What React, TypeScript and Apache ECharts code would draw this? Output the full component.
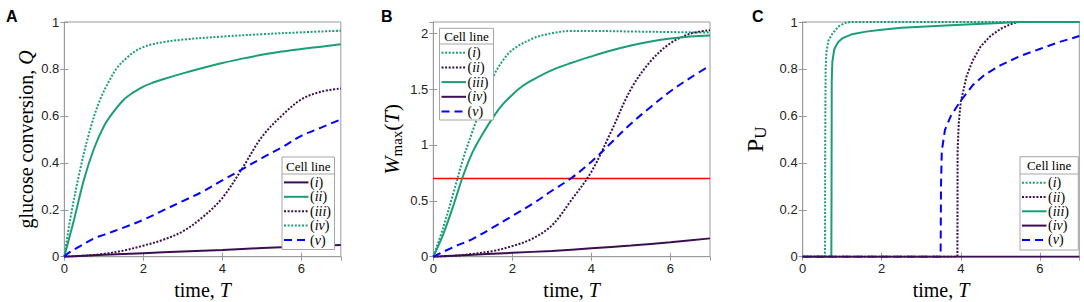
import React, { useEffect, useRef } from "react";
import * as echarts from "echarts";

// ---------- colours ----------
const GREEN = "#1b9e77";
const PURPLE = "#3b0f4f";
const BLUE = "#0000ff";
const RED = "#ff0000";
const AXIS_GRAY = "#9a9a9a";
const BOX_GRAY = "#a6a6a6";

// ---------- axes ----------
const T_MIN = 0;
const T_MAX = 7;
const T_INTERVAL = 2;
const yMaxA = 1;
const yMaxB = 2.1;
const yMaxC = 1;
const yIntervalA = 0.2;
const yIntervalB = 0.5;
const yIntervalC = 0.2;

// ---------- panel A: glucose conversion Q(T) ----------
const A_i: number[][] = [[0, 0], [1, 0.008], [2, 0.015], [3, 0.022], [4, 0.029], [5, 0.037], [6, 0.044], [7, 0.05]];
const A_ii: number[][] = [[0, 0], [0.25, 0.16], [0.5, 0.33], [0.75, 0.46], [1, 0.555], [1.25, 0.618], [1.5, 0.668], [1.75, 0.7], [2, 0.725], [2.25, 0.742], [2.5, 0.756], [3, 0.781], [3.5, 0.804], [4, 0.825], [4.5, 0.844], [5, 0.86], [5.5, 0.874], [6, 0.885], [6.5, 0.895], [7, 0.905]];
const A_iii: number[][] = [[0, 0], [0.5, 0.004], [1, 0.012], [1.5, 0.026], [2, 0.047], [2.5, 0.072], [3, 0.108], [3.5, 0.168], [4, 0.25], [4.5, 0.375], [5, 0.51], [5.5, 0.6], [6, 0.67], [6.5, 0.703], [7, 0.717]];
const A_iv: number[][] = [[0, 0], [0.15, 0.16], [0.4, 0.37], [0.65, 0.54], [0.9, 0.667], [1.15, 0.753], [1.35, 0.808], [1.6, 0.85], [1.8, 0.876], [2, 0.893], [2.2, 0.904], [2.5, 0.914], [3, 0.925], [4, 0.938], [5, 0.948], [6, 0.956], [7, 0.963]];
const A_v: number[][] = [[0, 0], [0.1, 0.015], [0.4, 0.045], [0.75, 0.078], [1, 0.093], [1.5, 0.124], [2, 0.157], [2.5, 0.197], [3, 0.237], [3.5, 0.277], [4, 0.325], [4.5, 0.372], [5, 0.42], [5.5, 0.465], [6, 0.515], [6.5, 0.55], [7, 0.585]];

// ---------- panel B: W_max(T) ----------
const B_i: number[][] = [[0, 0], [0.25, 0.26], [0.5, 0.56], [0.75, 0.87], [1, 1.13], [1.25, 1.38], [1.5, 1.6], [1.75, 1.75], [2, 1.85], [2.5, 1.95], [3, 2.0], [3.5, 2.02], [4, 2.02], [5, 2.015], [6, 2.01], [7, 2.005]];
const B_ii: number[][] = [[0, 0], [0.5, 0.008], [1, 0.025], [1.5, 0.05], [2, 0.095], [2.5, 0.16], [3, 0.28], [3.5, 0.51], [4, 0.76], [4.5, 1.12], [5, 1.5], [5.5, 1.75], [6, 1.91], [6.5, 1.995], [7, 2.027]];
const B_iii: number[][] = [[0, 0], [0.25, 0.2], [0.5, 0.45], [0.75, 0.72], [1, 0.94], [1.25, 1.1], [1.5, 1.24], [1.75, 1.36], [2, 1.45], [2.25, 1.525], [2.5, 1.58], [3, 1.67], [3.5, 1.735], [4, 1.792], [4.5, 1.845], [5, 1.89], [5.5, 1.925], [6, 1.952], [6.5, 1.97], [7, 1.98]];
const B_iv: number[][] = [[0, 0], [1, 0.017], [2, 0.035], [3, 0.052], [4, 0.075], [5, 0.1], [6, 0.13], [7, 0.164]];
const B_v: number[][] = [[0, 0], [0.5, 0.085], [1, 0.16], [1.5, 0.26], [2, 0.365], [2.5, 0.47], [3, 0.59], [3.5, 0.705], [4, 0.85], [4.5, 1.02], [5, 1.19], [5.5, 1.34], [6, 1.48], [6.5, 1.6], [7, 1.71]];
const thresholdB = 0.7;

// ---------- panel C: P_U ----------
const C_i: number[][] = [[0, 0], [0.56, 0], [0.565, 0.05], [0.57, 0.5], [0.58, 0.8], [0.6, 0.87], [0.65, 0.92], [0.75, 0.95], [0.9, 0.98], [1.05, 0.995], [1.2, 1], [7, 1]];
const C_ii: number[][] = [[0, 0], [3.915, 0], [3.92, 0.45], [3.95, 0.57], [4.0, 0.66], [4.15, 0.77], [4.3, 0.835], [4.5, 0.895], [4.75, 0.94], [5.0, 0.97], [5.25, 0.99], [5.45, 1], [7, 1]];
const C_iii: number[][] = [[0, 0], [0.725, 0], [0.73, 0.3], [0.735, 0.75], [0.75, 0.83], [0.8, 0.885], [0.9, 0.915], [1.0, 0.93], [1.25, 0.948], [1.6, 0.959], [2, 0.967], [2.5, 0.975], [3, 0.98], [4, 0.988], [5, 0.996], [5.5, 1], [7, 1]];
const C_iv: number[][] = [[0, 0], [7, 0]];
const C_v: number[][] = [[0, 0], [3.49, 0], [3.5, 0.3], [3.52, 0.45], [3.6, 0.54], [3.75, 0.6], [4.0, 0.665], [4.3, 0.73], [4.6, 0.775], [5, 0.815], [5.5, 0.855], [6, 0.885], [6.5, 0.915], [7, 0.94]];

// ---------- legend labels ----------
const cellLines = ["i", "ii", "iii", "iv", "v"];
const legendTitle = "Cell line";
const panelLetters = ["A", "B", "C"];

// ---------- line styles ----------
const SOLID: any = "solid";
const DOTTED = [2, 1.6];
const DASHED = [8, 5];

const SERIF = "Liberation Serif";
const SANS = "Liberation Sans";

type S = { label: string; data: number[][]; color: string; dash: any; z?: number };

const seriesA: S[] = [
  { label: cellLines[0], data: A_i, color: PURPLE, dash: SOLID },
  { label: cellLines[1], data: A_ii, color: GREEN, dash: SOLID },
  { label: cellLines[2], data: A_iii, color: PURPLE, dash: DOTTED },
  { label: cellLines[3], data: A_iv, color: GREEN, dash: DOTTED },
  { label: cellLines[4], data: A_v, color: BLUE, dash: DASHED },
];
const seriesB: S[] = [
  { label: cellLines[0], data: B_i, color: GREEN, dash: DOTTED },
  { label: cellLines[1], data: B_ii, color: PURPLE, dash: DOTTED },
  { label: cellLines[2], data: B_iii, color: GREEN, dash: SOLID },
  { label: cellLines[3], data: B_iv, color: PURPLE, dash: SOLID },
  { label: cellLines[4], data: B_v, color: BLUE, dash: DASHED },
];
const seriesC: S[] = [
  { label: cellLines[0], data: C_i, color: GREEN, dash: DOTTED },
  { label: cellLines[1], data: C_ii, color: PURPLE, dash: DOTTED },
  { label: cellLines[2], data: C_iii, color: GREEN, dash: SOLID },
  { label: cellLines[3], data: C_iv, color: PURPLE, dash: SOLID, z: 5 },
  { label: cellLines[4], data: C_v, color: BLUE, dash: DASHED },
];

const nameRich = {
  n: { fontFamily: SERIF, fontSize: 20, color: "#000" },
  it: { fontFamily: SERIF, fontSize: 20, fontStyle: "italic", color: "#000" },
};

const panels = [
  {
    grid: { left: 64.3, top: 22, width: 276.5, height: 234.7 },
    yMax: yMaxA,
    yInterval: yIntervalA,
    yName: "{n|glucose conversion, }{it|Q}",
    yNameGap: 28,
    yRich: nameRich,
    series: seriesA,
    smooth: 0.35,
    letterX: 6,
    legend: { x: 282, y: 157, w: 52.5, h: 92.5, head: 17, y0: 182.4, step: 14.4 },
  },
  {
    grid: { left: 433.3, top: 22, width: 276.7, height: 234.7 },
    yMax: yMaxB,
    yInterval: yIntervalB,
    yName: "{it|W}{sub|max}{n|(}{it|T}{n|)}",
    yNameGap: 29,
    yRich: {
      n: { fontFamily: SERIF, fontSize: 22, color: "#000", lineHeight: 26 },
      it: { fontFamily: SERIF, fontSize: 22, fontStyle: "italic", color: "#000", lineHeight: 26 },
      sub: { fontFamily: SERIF, fontSize: 15, color: "#000", lineHeight: 15, verticalAlign: "bottom" },
    },
    series: seriesB,
    smooth: 0.35,
    letterX: 381,
    legend: { x: 439.5, y: 28.3, w: 54, h: 91.7, head: 15.7, y0: 52.7, step: 14.7 },
  },
  {
    grid: { left: 802.7, top: 22, width: 276.6, height: 234.7 },
    yMax: yMaxC,
    yInterval: yIntervalC,
    yName: "{b|P}{sub|U}",
    yNameGap: 34,
    yRich: {
      b: { fontFamily: SERIF, fontSize: 24, color: "#000", lineHeight: 28 },
      sub: { fontFamily: SERIF, fontSize: 17, color: "#000", lineHeight: 17, verticalAlign: "bottom" },
    },
    series: seriesC,
    smooth: false as any,
    letterX: 752,
    legend: { x: 1020, y: 156.7, w: 58.3, h: 93.3, head: 17.3, y0: 182.7, step: 14.3 },
  },
];

function buildOption() {
  const grids: any[] = [];
  const xAxes: any[] = [];
  const yAxes: any[] = [];
  const series: any[] = [];
  const graphics: any[] = [];

  panels.forEach((p, i) => {
    grids.push({
      ...p.grid,
      show: true,
      borderColor: AXIS_GRAY,
      borderWidth: 1,
      backgroundColor: "transparent",
      containLabel: false,
      outerBoundsMode: "none",
    });

    const tick = { show: true, inside: true, length: 4, lineStyle: { color: AXIS_GRAY, width: 1 } };
    const label = { fontFamily: SANS, fontSize: 13, color: "#222" };

    xAxes.push({
      type: "value",
      gridIndex: i,
      position: "bottom",
      min: T_MIN,
      max: T_MAX,
      interval: T_INTERVAL,
      axisLine: { show: true, lineStyle: { color: AXIS_GRAY, width: 1 } },
      axisTick: tick,
      axisLabel: { ...label, margin: 5, showMaxLabel: false },
      splitLine: { show: false },
      name: "{n|time, }{it|T}",
      nameLocation: "middle",
      nameGap: 15,
      nameTextStyle: { rich: nameRich, fontFamily: SERIF, fontSize: 20, color: "#000" },
    });
    xAxes.push({
      type: "value",
      gridIndex: i,
      position: "top",
      min: T_MIN,
      max: T_MAX,
      interval: T_INTERVAL,
      axisLine: { show: false },
      axisTick: tick,
      axisLabel: { show: false },
      splitLine: { show: false },
    });
    yAxes.push({
      type: "value",
      gridIndex: i,
      position: "left",
      min: 0,
      max: p.yMax,
      interval: p.yInterval,
      axisLine: { show: true, lineStyle: { color: AXIS_GRAY, width: 1 } },
      axisTick: tick,
      axisLabel: { ...label, margin: 5, showMaxLabel: p.yMax === 1 },
      splitLine: { show: false },
      name: p.yName,
      nameLocation: "middle",
      nameGap: p.yNameGap,
      nameRotate: 90,
      nameTextStyle: { rich: p.yRich, fontFamily: SERIF, fontSize: 20, color: "#000" },
    });
    yAxes.push({
      type: "value",
      gridIndex: i,
      position: "right",
      min: 0,
      max: p.yMax,
      interval: p.yInterval,
      axisLine: { show: false },
      axisTick: tick,
      axisLabel: { show: false },
      splitLine: { show: false },
    });

    if (i === 1) {
      series.push({
        type: "line",
        name: "threshold",
        xAxisIndex: 2 * i,
        yAxisIndex: 2 * i,
        data: [[T_MIN, thresholdB], [T_MAX, thresholdB]],
        showSymbol: false,
        symbol: "none",
        lineStyle: { color: RED, width: 1.5 },
        silent: true,
        z: 2,
      });
    }

    p.series.forEach((s) => {
      series.push({
        type: "line",
        name: `${panelLetters[i]} (${s.label})`,
        xAxisIndex: 2 * i,
        yAxisIndex: 2 * i,
        data: s.data,
        showSymbol: false,
        symbol: "none",
        smooth: p.smooth,
        lineStyle: { color: s.color, width: 2, type: s.dash },
        silent: true,
        z: s.z ?? 3,
      });
    });

    // panel letter
    graphics.push({
      type: "text",
      x: p.letterX,
      y: 16,
      z: 110,
      style: {
        text: panelLetters[i],
        fontFamily: SANS,
        fontWeight: "bold",
        fontSize: 16,
        fill: "#000",
        verticalAlign: "middle",
        align: "left",
      },
    });

    // legend
    const L = p.legend;
    graphics.push({
      type: "rect",
      z: 100,
      shape: { x: L.x, y: L.y, width: L.w, height: L.h },
      style: { fill: "#fff", stroke: BOX_GRAY, lineWidth: 1 },
    });
    graphics.push({
      type: "text",
      z: 101,
      x: L.x + L.w / 2,
      y: L.y + L.head / 2 + 0.5,
      style: {
        text: legendTitle,
        fontFamily: SERIF,
        fontSize: 13,
        fill: "#000",
        align: "center",
        verticalAlign: "middle",
      },
    });
    graphics.push({
      type: "line",
      z: 101,
      shape: { x1: L.x, y1: L.y + L.head, x2: L.x + L.w, y2: L.y + L.head },
      style: { stroke: BOX_GRAY, lineWidth: 1 },
    });
    p.series.forEach((s, k) => {
      const ey = L.y0 + k * L.step;
      graphics.push({
        type: "line",
        z: 101,
        shape: { x1: L.x + 2, y1: ey, x2: L.x + 26.5, y2: ey },
        style: {
          stroke: s.color,
          lineWidth: 2,
          lineDash: Array.isArray(s.dash) ? s.dash : null,
        },
      });
      graphics.push({
        type: "text",
        z: 101,
        x: L.x + 28,
        y: ey,
        style: {
          text: `{n|(}{it|${s.label}}{n|)}`,
          verticalAlign: "middle",
          align: "left",
          fontFamily: SERIF,
          fontSize: 14,
          fill: "#000",
          rich: {
            n: { fontFamily: SERIF, fontSize: 14, fill: "#000" },
            it: { fontFamily: SERIF, fontSize: 14, fontStyle: "italic", fill: "#000" },
          },
        },
      });
    });
  });

  return {
    animation: false,
    backgroundColor: "#ffffff",
    grid: grids,
    xAxis: xAxes,
    yAxis: yAxes,
    series,
    graphic: { elements: graphics },
  };
}

export default function App() {
  const ref = useRef<HTMLDivElement>(null);
  useEffect(() => {
    if (!ref.current) return;
    const chart = echarts.init(ref.current, undefined, { renderer: "svg" });
    chart.setOption(buildOption() as any);
    return () => chart.dispose();
  }, []);
  return (
    <div
      ref={ref}
      style={{ position: "fixed", left: 0, top: 0, width: 1084, height: 302, background: "#fff" }}
    />
  );
}
